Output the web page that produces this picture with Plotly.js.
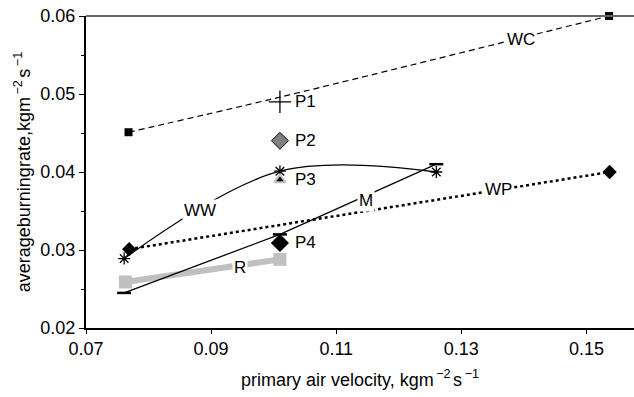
<!DOCTYPE html>
<html>
<head>
<meta charset="utf-8">
<script src="https://cdn.plot.ly/plotly-3.0.1.min.js"></script>
<style>html,body{margin:0;padding:0;background:#fff;}#chart{width:634px;height:397px;}</style>
</head>
<body>
<div id="chart"></div>
<script>
// ---- data ----
const wcX = [0.0768, 0.101, 0.1536];
const wcY = [0.0451, 0.0496, 0.0600];
const wpX = [0.0769, 0.1537];
const wpY = [0.0301, 0.0400];
const wwX = [0.0761, 0.101, 0.1260];
const wwY = [0.0289, 0.0401, 0.0400];
const mX = [0.0761, 0.101, 0.1260];
const mY = [0.0245, 0.0320, 0.0410];
const rX = [0.0763, 0.101];
const rY = [0.0259, 0.0288];
const pNames = ['P1', 'P2', 'P3', 'P4'];
const pX = [0.101, 0.101, 0.101, 0.101];
const pY = [0.0490, 0.0440, 0.0390, 0.0309];
const seriesNames = ['WC', 'WP', 'WW', 'M', 'R'];
const xTickVals = [0.07, 0.09, 0.11, 0.13, 0.15];
const yTickVals = [0.02, 0.03, 0.04, 0.05, 0.06];

// ---- layout helpers (positions of in-plot labels) ----
const seriesLabelPos = {WC: [0.1396, 0.0570], WP: [0.1359, 0.0378], WW: [0.0882, 0.0351], M: [0.1147, 0.0364], R: [0.0946, 0.0278]};
const FONT = 'Liberation Sans, Arial, sans-serif';
const UNIT = 'kgm<sup>\u2009\u22122\u2009</sup>s<sup>\u2009\u22121</sup>';

const traces = [
  {x: rX, y: rY, mode: 'lines+markers', line: {color: '#c0c0c0', width: 6},
   marker: {symbol: 'square', size: 13, color: '#c0c0c0'}},
  {x: wcX, y: wcY, mode: 'lines+markers', cliponaxis: false,
   line: {color: 'black', width: 1.2, dash: '6px,4px', shape: 'spline'},
   marker: {symbol: 'square', size: 8, color: 'black', opacity: [1, 0, 1]}},
  {x: wpX, y: wpY, mode: 'lines+markers', line: {color: 'black', width: 2.5, dash: 'dot'},
   marker: {symbol: 'diamond', size: 11, color: 'black'}},
  {x: wwX, y: wwY, mode: 'lines+markers', line: {color: 'black', width: 1.3, shape: 'spline', smoothing: 1},
   marker: {symbol: 'asterisk-open', size: 10, color: 'black', line: {color: 'black', width: 1.3}}},
  {x: mX, y: mY, mode: 'lines+markers', line: {color: 'black', width: 1.3},
   marker: {symbol: 'line-ew-open', size: 10, color: 'black', line: {color: 'black', width: 2.5}}},
  {x: [pX[0]], y: [pY[0]], mode: 'markers', marker: {symbol: 'cross-thin-open', size: 16, color: 'black', line: {color: 'black', width: 1.3}}},
  {x: [pX[1]], y: [pY[1]], mode: 'markers', marker: {symbol: 'diamond', size: 13, color: '#808080', line: {color: 'black', width: 1}}},
  {x: [pX[2]], y: [pY[2]], mode: 'markers', marker: {symbol: 'triangle-up', size: 10, color: 'black', line: {color: '#c0c0c0', width: 2}}},
  {x: [pX[3]], y: [pY[3]], mode: 'markers', marker: {symbol: 'diamond', size: 14, color: 'black'}}
];

const annotations = [];
seriesNames.forEach(n => {
  annotations.push({x: seriesLabelPos[n][0], y: seriesLabelPos[n][1], text: n, showarrow: false,
    bgcolor: 'white', borderpad: 1, font: {family: FONT, size: 17, color: 'black'}});
});
pNames.forEach((n, i) => {
  annotations.push({x: pX[i], y: pY[i], text: n, showarrow: false, xanchor: 'left', xshift: 13,
    font: {family: FONT, size: 17, color: 'black'}});
});

const layout = {
  width: 634, height: 397,
  margin: {l: 86, r: 0, t: 16, b: 69},
  paper_bgcolor: 'white', plot_bgcolor: 'white',
  showlegend: false,
  font: {family: FONT, size: 18, color: 'black'},
  xaxis: {
    range: [0.07, 0.1576], tickvals: xTickVals, ticktext: xTickVals.map(v => v.toFixed(2)),
    ticks: 'outside', ticklen: 4, tickcolor: 'black', tickwidth: 1,
    showline: true, linecolor: 'black', linewidth: 1.5, showgrid: false, zeroline: false,
    tickfont: {family: FONT, size: 18},
    title: {text: 'primary air velocity, ' + UNIT, font: {family: FONT, size: 18}, standoff: 15}
  },
  yaxis: {
    range: [0.02, 0.06], tickvals: yTickVals, ticktext: yTickVals.map(v => v.toFixed(2)),
    ticks: 'outside', ticklen: 5, tickcolor: 'black', tickwidth: 1,
    minor: {tickvals: [0.025, 0.035, 0.045, 0.055], ticks: 'outside', ticklen: 3, tickcolor: 'black'},
    showline: true, linecolor: 'black', linewidth: 2, showgrid: false, zeroline: false,
    tickfont: {family: FONT, size: 18},
    title: {text: 'averageburningrate,' + UNIT, font: {family: FONT, size: 18}, standoff: 5}
  },
  shapes: [{type: 'line', xref: 'paper', yref: 'paper', x0: 0, x1: 1, y0: 1, y1: 1, line: {color: '#666666', width: 2}}],
  annotations: annotations
};

Plotly.newPlot('chart', traces, layout, {displayModeBar: false, staticPlot: true});
</script>
</body>
</html>
